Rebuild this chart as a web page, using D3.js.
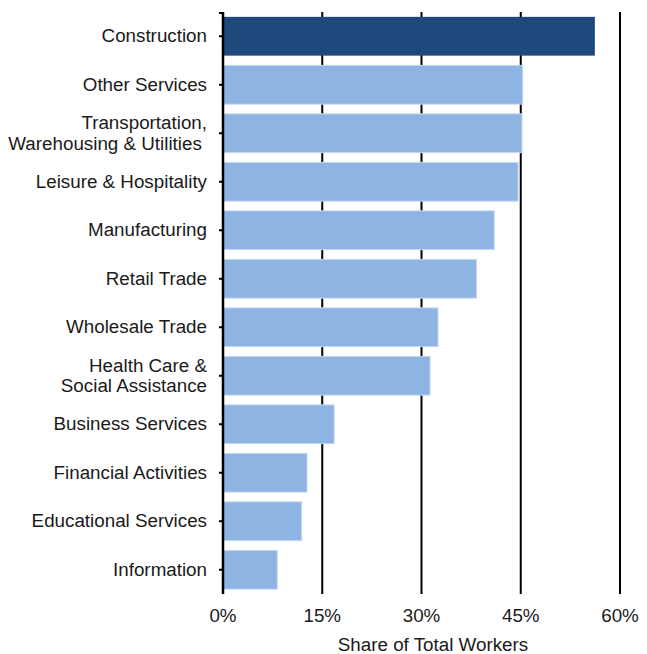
<!DOCTYPE html>
<html><head><meta charset="utf-8">
<script src="https://cdn.jsdelivr.net/npm/d3@7"></script>
<style>body{margin:0;background:#fff}svg{display:block}text{font-family:"Liberation Sans",Arial,sans-serif;fill:#1a1a1a}</style>
</head><body>
<svg id="c" width="647" height="654"></svg>
<script>
const categories = ["Construction","Other Services","Transportation,\nWarehousing & Utilities\u00A0","Leisure & Hospitality","Manufacturing","Retail Trade","Wholesale Trade","Health Care &\nSocial Assistance","Business Services","Financial Activities","Educational Services","Information"];
const values = [56.2,45.3,45.2,44.6,41.0,38.3,32.5,31.3,16.8,12.7,11.9,8.2];
const highlight = ["Construction"];
const xTicks = [0,15,30,45,60];
const xTitle = "Share of Total Workers";

const svg = d3.select("#c");
const L = 223, R = 620, T = 12, B = 594;
const FS = 18.8;
const x = d3.scaleLinear().domain([0,60]).range([L,R]);
const y = d3.scaleBand().domain(categories).range([T,B]).paddingInner(0.2).paddingOuter(0.1);

// gridlines
svg.append("g").selectAll("line").data(xTicks.filter(d=>d>0)).join("line")
  .attr("x1",d=>x(d)).attr("x2",d=>x(d)).attr("y1",T).attr("y2",B)
  .attr("stroke","#000").attr("stroke-width",2);

// bars
svg.append("g").selectAll("rect").data(categories).join("rect")
  .attr("x",x(0)).attr("y",d=>y(d)).attr("height",y.bandwidth())
  .attr("width",(d,i)=>x(values[i])-x(0))
  .attr("fill",d=>highlight.includes(d)?"#1F497D":"#8EB4E3")
  .attr("stroke",d=>highlight.includes(d)?"none":"#C9DAF0").attr("stroke-width",1);

// y axis
const yAxisG = svg.append("g");
yAxisG.append("line").attr("x1",L).attr("x2",L).attr("y1",T).attr("y2",B).attr("stroke","#000").attr("stroke-width",2.5);
yAxisG.append("line").attr("x1",L-4).attr("x2",L).attr("y1",T+1).attr("y2",T+1).attr("stroke","#000").attr("stroke-width",2);
yAxisG.selectAll("line.t").data(categories).join("line").attr("class","t")
  .attr("x1",L-4).attr("x2",L).attr("y1",d=>y(d)+y.bandwidth()/2).attr("y2",d=>y(d)+y.bandwidth()/2)
  .attr("stroke","#000").attr("stroke-width",2);

const lab = svg.append("g").selectAll("text").data(categories).join("text")
  .attr("text-anchor","end").attr("font-size",FS)
  .style("white-space","pre")
  .attr("x",207);
lab.each(function(d){
  const lines = d.split("\n");
  const cy = y(d)+y.bandwidth()/2;
  const t = d3.select(this);
  lines.forEach((ln,i)=>{
    t.append("tspan").attr("x",207).attr("y",cy + (i-(lines.length-1)/2)*20.5 + 6).text(ln);
  });
});

// x tick labels
svg.append("g").selectAll("text").data(xTicks).join("text")
  .attr("x",d=>x(d)).attr("y",622).attr("text-anchor","middle").attr("font-size",FS)
  .text(d=>d+"%");

svg.append("text").attr("x",433).attr("y",651).attr("text-anchor","middle").attr("font-size",FS).text(xTitle);
</script>
</body></html>
